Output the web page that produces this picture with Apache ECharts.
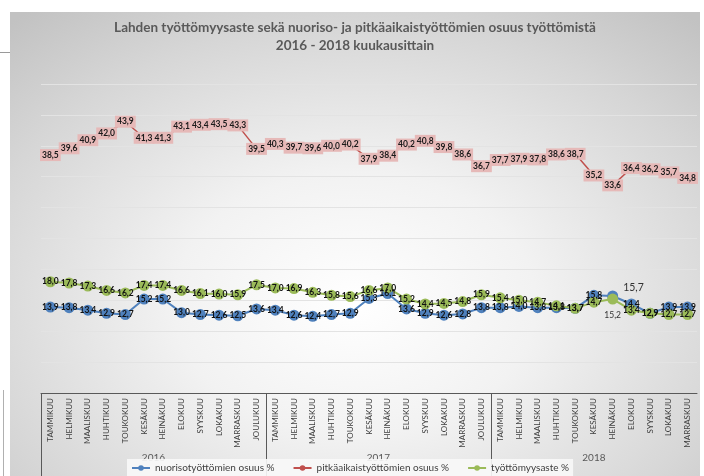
<!DOCTYPE html>
<html>
<head>
<meta charset="utf-8">
<script src="https://cdn.jsdelivr.net/npm/echarts@6/dist/echarts.min.js"></script>
<style>
html,body{margin:0;padding:0;background:#fff;width:704px;height:476px;overflow:hidden;}
#bg{position:absolute;left:10px;top:12px;width:690px;height:470px;
background:radial-gradient(ellipse 75% 80% at 50% 62%, #ffffff 0%, #f2f2f2 35%, #d6d6d6 75%, #c2c2c2 100%);}
#ln1{position:absolute;left:0;top:52px;width:10px;height:1px;background:#9a9a9a;}
#ln2{position:absolute;left:3px;top:390px;width:1px;height:86px;background:#b0b0b0;}
#chart{position:absolute;left:0;top:0;width:704px;height:476px;}
</style>
</head>
<body>
<div id="bg"></div><div id="ln1"></div><div id="ln2"></div>
<div id="chart"></div>
<script>
// ---- data ----
const months = ['TAMMIKUU','HELMIKUU','MAALISKUU','HUHTIKUU','TOUKOKUU','KESÄKUU','HEINÄKUU','ELOKUU','SYYSKUU','LOKAKUU','MARRASKUU','JOULUKUU'];
const years = ['2016','2017','2018'];
const monthsPerYear = [12, 12, 11];
const seriesNames = ['nuorisotyöttömien osuus %','pitkäaikaistyöttömien osuus %','työttömyysaste %'];
const nuoriso = [13.9,13.8,13.4,12.9,12.7,15.2,15.2,13.0,12.7,12.6,12.5,13.6,
                 13.4,12.6,12.4,12.7,12.9,15.3,16.1,13.6,12.9,12.6,12.8,13.8,
                 13.8,14.0,13.8,13.8,13.7,15.8,15.7,14.4,12.9,13.9,13.9];
const pitkaaikais = [38.5,39.6,40.9,42.0,43.9,41.3,41.3,43.1,43.4,43.5,43.3,39.5,
                     40.3,39.7,39.6,40.0,40.2,37.9,38.4,40.2,40.8,39.8,38.6,36.7,
                     37.7,37.9,37.8,38.6,38.7,35.2,33.6,36.4,36.2,35.7,34.8];
const tyottomyys = [18.0,17.8,17.3,16.6,16.2,17.4,17.4,16.6,16.1,16.0,15.9,17.5,
                    17.0,16.9,16.3,15.8,15.6,16.6,17.0,15.2,14.4,14.5,14.8,15.9,
                    15.4,15.0,14.7,14.1,13.7,14.7,15.2,13.4,12.9,12.7,12.7];

// ---- build ----
const categories = [];
const yearBounds = [-0.5];
const yearCenters = [];
let acc = 0;
monthsPerYear.forEach((n, i) => {
  for (let k = 0; k < n; k++) categories.push(months[k]);
  yearCenters.push(acc + (n - 1) / 2);
  acc += n;
  if (i < monthsPerYear.length - 1) yearBounds.push(acc - 0.5);
});

const FONT = 'Lato, "Open Sans", sans-serif';
const fmt = p => p.value.toFixed(1).replace('.', ',');

const baseLabel = {
  show: true, position: 'inside', formatter: fmt,
  fontFamily: FONT, fontSize: 8.5, fontWeight: 'bold', color: '#111'
};

const blueData = nuoriso.map((v, i) => i === 30 ? {
  value: v,
  label: { position: 'right', offset: [0, -8], fontSize: 10.5, fontWeight: 'normal', color: '#333' }
} : v);
const greenData = tyottomyys.map((v, i) => i === 30 ? {
  value: v,
  label: { position: 'bottom', distance: 6, fontWeight: 'normal', color: '#333' }
} : v);

const chart = echarts.init(document.getElementById('chart'), null, { renderer: 'canvas' });
chart.setOption({
  backgroundColor: 'transparent',
  animation: false,
  title: {
    text: 'Lahden työttömyysaste sekä nuoriso- ja pitkäaikaistyöttömien osuus työttömistä\n2016 - 2018 kuukausittain',
    left: 355, textAlign: 'center', top: 19, padding: 0,
    textStyle: { fontFamily: FONT, fontSize: 13.5, fontWeight: 'bold', color: '#595959', lineHeight: 18 }
  },
  legend: {
    bottom: 0, left: 127,
    data: seriesNames,
    itemWidth: 18, itemHeight: 7, itemGap: 18,
    padding: [4, 4, 3, 4],
    backgroundColor: 'rgba(248,248,248,0.9)',
    textStyle: { fontFamily: FONT, fontSize: 10, color: '#404040' }
  },
  grid: { left: 41, right: 7, top: 84, bottom: 83, containLabel: false },
  xAxis: [{
    type: 'category', data: categories, boundaryGap: true,
    axisLine: { show: true, lineStyle: { color: '#595959', width: 1 } },
    axisTick: { show: false },
    axisLabel: { interval: 0, rotate: 90, fontFamily: FONT, fontSize: 8, color: '#404040', margin: 5 }
  }, {
    type: 'value', min: -0.5, max: categories.length - 0.5, position: 'bottom',
    axisLine: { show: false }, splitLine: { show: false },
    axisTick: { show: true, customValues: yearBounds, length: 84, lineStyle: { color: '#595959', width: 1 } },
    axisLabel: {
      show: true, customValues: yearCenters, margin: 60,
      formatter: v => years[yearCenters.indexOf(v)] || '',
      fontFamily: FONT, fontSize: 10, color: '#595959'
    }
  }],
  yAxis: {
    type: 'value', min: 0, max: 50, interval: 5,
    axisLine: { show: false }, axisTick: { show: false },
    axisLabel: { show: false },
    splitLine: { lineStyle: { color: '#e3e3e3', width: 1 } }
  },
  series: [{
    name: seriesNames[0], type: 'line', data: blueData,
    symbol: 'circle', symbolSize: 11,
    itemStyle: { color: '#4f81bd' }, lineStyle: { color: '#4f81bd', width: 2 },
    label: baseLabel
  }, {
    name: seriesNames[1], type: 'line', data: pitkaaikais,
    symbol: 'circle', symbolSize: 5,
    itemStyle: { color: '#c0504d' }, lineStyle: { color: '#c0504d', width: 1.5 },
    label: Object.assign({}, baseLabel, {
      backgroundColor: '#e6b9b8', padding: [2, 2, 1, 2], color: '#1a1a1a'
    })
  }, {
    name: seriesNames[2], type: 'line', data: greenData,
    symbol: 'circle', symbolSize: 11,
    itemStyle: { color: '#9bbb59' }, lineStyle: { color: '#9bbb59', width: 2 },
    label: baseLabel
  }]
});
</script>
</body>
</html>
